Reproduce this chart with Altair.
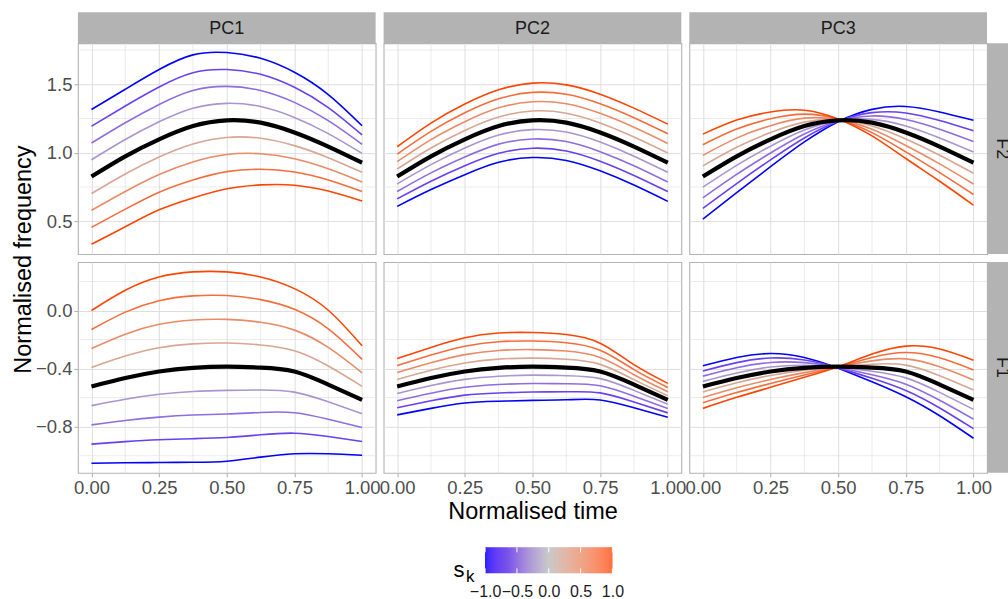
import altair as alt
import pandas as pd

# ---------------- data ----------------
T = [0.0, 0.125, 0.25, 0.375, 0.5, 0.625, 0.75, 0.875, 1.0]
S = [-1.0, -0.75, -0.5, -0.25, 0.0, 0.25, 0.5, 0.75, 1.0]
PCS = ["PC1", "PC2", "PC3"]
FORMANTS = ["F2", "F1"]

MEAN_F2 = [0.826, 0.974, 1.098, 1.195, 1.237, 1.220, 1.148, 1.045, 0.927]
MEAN_F1 = [-0.523, -0.465, -0.420, -0.395, -0.387, -0.393, -0.420, -0.510, -0.615]

F2_PC1 = [
    [1.316, 1.464, 1.608, 1.715, 1.732, 1.690, 1.588, 1.425, 1.197],
    [1.194, 1.342, 1.481, 1.585, 1.608, 1.573, 1.478, 1.330, 1.130],
    [1.071, 1.219, 1.353, 1.455, 1.485, 1.455, 1.368, 1.235, 1.062],
    [0.949, 1.097, 1.226, 1.325, 1.361, 1.338, 1.258, 1.140, 0.995],
    MEAN_F2,
    [0.702, 0.845, 0.969, 1.064, 1.112, 1.106, 1.052, 0.964, 0.857],
    [0.579, 0.717, 0.841, 0.933, 0.987, 0.993, 0.956, 0.883, 0.787],
    [0.455, 0.588, 0.712, 0.801, 0.862, 0.879, 0.859, 0.801, 0.717],
    [0.331, 0.459, 0.583, 0.670, 0.737, 0.765, 0.763, 0.720, 0.647],
]
F2_PC2 = [
    [0.608, 0.731, 0.840, 0.930, 0.965, 0.944, 0.868, 0.764, 0.645],
    [0.663, 0.792, 0.905, 0.996, 1.033, 1.013, 0.938, 0.834, 0.716],
    [0.717, 0.853, 0.969, 1.063, 1.101, 1.082, 1.008, 0.905, 0.786],
    [0.772, 0.913, 1.034, 1.129, 1.169, 1.151, 1.078, 0.975, 0.857],
    MEAN_F2,
    [0.881, 1.035, 1.163, 1.261, 1.305, 1.289, 1.218, 1.115, 0.998],
    [0.935, 1.096, 1.227, 1.328, 1.373, 1.358, 1.288, 1.186, 1.068],
    [0.990, 1.156, 1.292, 1.394, 1.441, 1.427, 1.358, 1.256, 1.139],
    [1.044, 1.217, 1.356, 1.460, 1.509, 1.496, 1.428, 1.326, 1.209],
]
F2_PC3 = [
    [0.516, 0.709, 0.898, 1.079, 1.227, 1.317, 1.338, 1.298, 1.237],
    [0.594, 0.775, 0.948, 1.108, 1.230, 1.293, 1.291, 1.235, 1.160],
    [0.671, 0.842, 0.998, 1.137, 1.232, 1.269, 1.243, 1.172, 1.082],
    [0.749, 0.908, 1.048, 1.166, 1.235, 1.244, 1.196, 1.108, 1.005],
    MEAN_F2,
    [0.904, 1.040, 1.148, 1.224, 1.240, 1.196, 1.101, 0.982, 0.850],
    [0.981, 1.107, 1.198, 1.253, 1.242, 1.172, 1.053, 0.919, 0.772],
    [1.059, 1.173, 1.248, 1.282, 1.245, 1.147, 1.006, 0.855, 0.695],
    [1.136, 1.239, 1.298, 1.311, 1.247, 1.123, 0.958, 0.792, 0.617],
]
F1_PC1 = [
    [-1.052, -1.049, -1.047, -1.045, -1.038, -1.010, -0.987, -0.987, -0.997],
    [-0.920, -0.903, -0.890, -0.883, -0.875, -0.856, -0.845, -0.868, -0.902],
    [-0.788, -0.757, -0.734, -0.720, -0.713, -0.702, -0.704, -0.749, -0.806],
    [-0.655, -0.611, -0.577, -0.558, -0.550, -0.547, -0.562, -0.629, -0.711],
    MEAN_F1,
    [-0.392, -0.314, -0.257, -0.230, -0.224, -0.237, -0.277, -0.382, -0.522],
    [-0.262, -0.163, -0.095, -0.065, -0.061, -0.081, -0.135, -0.254, -0.429],
    [-0.131, -0.011, 0.068, 0.101, 0.103, 0.075, 0.008, -0.126, -0.336],
    [0.000, 0.140, 0.231, 0.266, 0.266, 0.231, 0.151, 0.002, -0.243],
]
F1_PC2 = [
    [-0.719, -0.674, -0.637, -0.625, -0.619, -0.615, -0.616, -0.670, -0.735],
    [-0.670, -0.622, -0.583, -0.568, -0.561, -0.560, -0.567, -0.630, -0.705],
    [-0.621, -0.570, -0.529, -0.510, -0.503, -0.504, -0.518, -0.590, -0.675],
    [-0.572, -0.517, -0.474, -0.453, -0.445, -0.449, -0.469, -0.550, -0.645],
    MEAN_F1,
    [-0.475, -0.412, -0.362, -0.335, -0.328, -0.336, -0.371, -0.476, -0.587],
    [-0.427, -0.360, -0.304, -0.275, -0.269, -0.279, -0.323, -0.442, -0.559],
    [-0.378, -0.307, -0.246, -0.215, -0.210, -0.222, -0.274, -0.407, -0.530],
    [-0.330, -0.254, -0.188, -0.155, -0.151, -0.165, -0.225, -0.373, -0.502],
]
F1_PC3 = [
    [-0.381, -0.323, -0.296, -0.323, -0.397, -0.491, -0.594, -0.725, -0.880],
    [-0.417, -0.359, -0.327, -0.341, -0.395, -0.467, -0.551, -0.671, -0.814],
    [-0.452, -0.394, -0.358, -0.359, -0.392, -0.442, -0.507, -0.618, -0.748],
    [-0.488, -0.430, -0.389, -0.377, -0.390, -0.418, -0.464, -0.564, -0.681],
    MEAN_F1,
    [-0.561, -0.498, -0.447, -0.411, -0.387, -0.370, -0.376, -0.449, -0.547],
    [-0.599, -0.532, -0.475, -0.428, -0.387, -0.347, -0.333, -0.388, -0.479],
    [-0.636, -0.565, -0.502, -0.444, -0.387, -0.323, -0.289, -0.326, -0.410],
    [-0.674, -0.598, -0.529, -0.460, -0.387, -0.300, -0.245, -0.265, -0.342],
]

DATA = {
    "F2": {"PC1": F2_PC1, "PC2": F2_PC2, "PC3": F2_PC3},
    "F1": {"PC1": F1_PC1, "PC2": F1_PC2, "PC3": F1_PC3},
}

X_MAJOR = [0.0, 0.25, 0.5, 0.75, 1.0]
X_MINOR = [0.125, 0.375, 0.625, 0.875]
Y_DOMAIN = {"F2": [0.26, 1.80], "F1": [-1.118, 0.334]}
Y_MAJOR = {"F2": [0.5, 1.0, 1.5], "F1": [-0.8, -0.4, 0.0]}
Y_MINOR = {"F2": [0.75, 1.25, 1.75], "F1": [-1.0, -0.6, -0.2, 0.2]}
LEGEND_VALUES = [-1.0, -0.5, 0.0, 0.5, 1.0]
LEGEND_STEPS = 128  # number of colour bands drawn in the colour bar

# ---------------- styling ----------------
FONT = "Liberation Sans"
W, H = 298, 211
STRIP = 31
STRIP_FILL = "#B3B3B3"
GRID = "#DEDEDE"

color_scale = alt.Scale(domain=[-1, 0, 1], range=["#0000FF", "#BEBEBE", "#FF4500"],
                        interpolate="lab")


def colourbar_layers():
    """Colour bar drawn under the middle bottom panel, on its own x scale."""
    step = 2.0 / LEGEND_STEPS
    lo = [-1.0 + i * step for i in range(LEGEND_STEPS)]
    bands = pd.DataFrame({"lo": lo, "hi": [b + step * 1.02 for b in lo],
                          "s": [b + step / 2 for b in lo]})
    # the bar spans 127.4 px, starting 101.6 px right of the panel's left edge
    lx = alt.Scale(domain=[-2.595, 2.083], nice=False, zero=False)
    lx_axis = alt.Axis(values=LEGEND_VALUES, format=".1f", ticks=False, grid=False,
                       domain=False, labels=True, labelFontSize=16, labelColor="#1A1A1A",
                       labelPadding=10.5, labelOverlap=False, labelFlush=False,
                       orient="bottom", offset=100.6)
    bar_top, bar_bot = H + 74.6, H + 100.6
    bar = alt.Chart(bands).mark_rect().encode(
        x=alt.X("lo:Q", scale=lx, axis=lx_axis, title=None),
        x2="hi:Q",
        y=alt.value(bar_top), y2=alt.value(bar_bot),
        color=alt.Color("s:Q", scale=color_scale, legend=None),
    )
    tick_df = pd.DataFrame({"lo": LEGEND_VALUES})
    ticks_top = alt.Chart(tick_df).mark_rule(color="white", strokeWidth=1).encode(
        x=alt.X("lo:Q", scale=lx, axis=lx_axis, title=None),
        y=alt.value(bar_top), y2=alt.value(bar_top + 5))
    ticks_bot = alt.Chart(tick_df).mark_rule(color="white", strokeWidth=1).encode(
        x=alt.X("lo:Q", scale=lx, axis=lx_axis, title=None),
        y=alt.value(bar_bot - 5), y2=alt.value(bar_bot))
    bar_group = alt.layer(bar, ticks_top, ticks_bot)
    title_df = pd.DataFrame({"a": ["s"], "b": ["k"]})
    title_s = alt.Chart(title_df).mark_text(
        font=FONT, fontSize=22, color="#000000", align="left", baseline="alphabetic").encode(
        x=alt.value(70), y=alt.value(H + 104), text="a:N")
    title_k = alt.Chart(title_df).mark_text(
        font=FONT, fontSize=17, color="#000000", align="left", baseline="alphabetic").encode(
        x=alt.value(82.5), y=alt.value(H + 109), text="b:N")
    return [bar_group, title_s, title_k]


def panel(formant, pc, ri, ci):
    curves = DATA[formant][pc]
    recs = [{"t": t, "v": v, "s": s} for s, c in zip(S, curves) for t, v in zip(T, c)]
    df = pd.DataFrame(recs)
    col_df = df[df["s"] != 0.0]
    mean_df = df[df["s"] == 0.0]
    bottom = ri == 1
    left = ci == 0

    xs = alt.Scale(domain=[-0.05, 1.05], nice=False, zero=False)
    ys = alt.Scale(domain=Y_DOMAIN[formant], nice=False, zero=False)

    xax = dict(values=X_MAJOR, format=".2f", labels=bottom, ticks=bottom, grid=True,
               domain=False, titlePadding=2, orient="bottom")
    yax = dict(values=Y_MAJOR[formant], format=".1f", labels=left, ticks=left, grid=True,
               domain=False)
    xtitle = "Normalised time" if (bottom and ci == 1) else None
    if bottom and left:
        ytitle = "Normalised frequency"
        yax.update(titleX=-54.7, titleY=-3, titleAlign="center", titleBaseline="middle",
                   titleAngle=270)
    else:
        ytitle = None

    x_enc = alt.X("t:Q", scale=xs, axis=alt.Axis(**xax), title=xtitle)
    y_enc = alt.Y("v:Q", scale=ys, axis=alt.Axis(**yax), title=ytitle)

    layers = []
    layers.append(alt.Chart(pd.DataFrame({"t": X_MINOR})).mark_rule(
        color=GRID, strokeWidth=0.6).encode(x=x_enc))
    layers.append(alt.Chart(pd.DataFrame({"v": Y_MINOR[formant]})).mark_rule(
        color=GRID, strokeWidth=0.6).encode(y=y_enc))
    layers.append(alt.Chart(col_df).mark_line(strokeWidth=1.6, interpolate="natural").encode(
        x=x_enc, y=y_enc,
        color=alt.Color("s:Q", scale=color_scale, legend=None),
        detail="s:N"))
    layers.append(alt.Chart(mean_df).mark_line(
        strokeWidth=4.2, color="#000000", interpolate="natural").encode(x=x_enc, y=y_enc))

    if ri == 0:
        sdf = pd.DataFrame({"lab": [pc]})
        layers.append(alt.Chart(sdf).mark_rect(color=STRIP_FILL).encode(
            x=alt.value(0), x2=alt.value(W), y=alt.value(-STRIP), y2=alt.value(0)))
        layers.append(alt.Chart(sdf).mark_text(
            font=FONT, fontSize=18, color="#1A1A1A", align="center", baseline="middle").encode(
            x=alt.value(W / 2), y=alt.value(-STRIP / 2 + 1), text="lab:N"))
    if ci == 2:
        rdf = pd.DataFrame({"lab": [formant]})
        layers.append(alt.Chart(rdf).mark_rect(color=STRIP_FILL).encode(
            x=alt.value(W), x2=alt.value(W + STRIP), y=alt.value(0), y2=alt.value(H)))
        layers.append(alt.Chart(rdf).mark_text(
            font=FONT, fontSize=18, color="#1A1A1A", align="center", baseline="middle",
            angle=90).encode(
            x=alt.value(W + STRIP / 2 - 1), y=alt.value(H / 2), text="lab:N"))

    main = alt.layer(*layers)
    if bottom and ci == 1:
        return alt.layer(main, *colourbar_layers()).resolve_scale(
            x="independent").properties(width=W, height=H)
    return main.properties(width=W, height=H)


panels = []
for ri, f in enumerate(FORMANTS):
    for ci, pc in enumerate(PCS):
        panels.append(panel(f, pc, ri, ci))

chart = alt.concat(*panels, columns=3, spacing=8, bounds="flush").resolve_scale(
    color="shared"
).properties(
    padding={"left": 10, "top": 11, "right": -11, "bottom": 0}
).configure(font=FONT).configure_view(
    stroke="#B3B3B3", strokeWidth=1.1
).configure_axis(
    labelFont=FONT, labelFontSize=18.5, labelColor="#4D4D4D", tickColor="#B3B3B3",
    tickSize=4, tickWidth=1.1, gridColor=GRID, gridWidth=1, titleFont=FONT,
    titleFontSize=23.5, titleFontWeight="normal", titleColor="#000000",
    labelPadding=2, labelFlush=False, domain=False,
)

chart.save("out.html", embed_options={"renderer": "svg", "actions": False})
